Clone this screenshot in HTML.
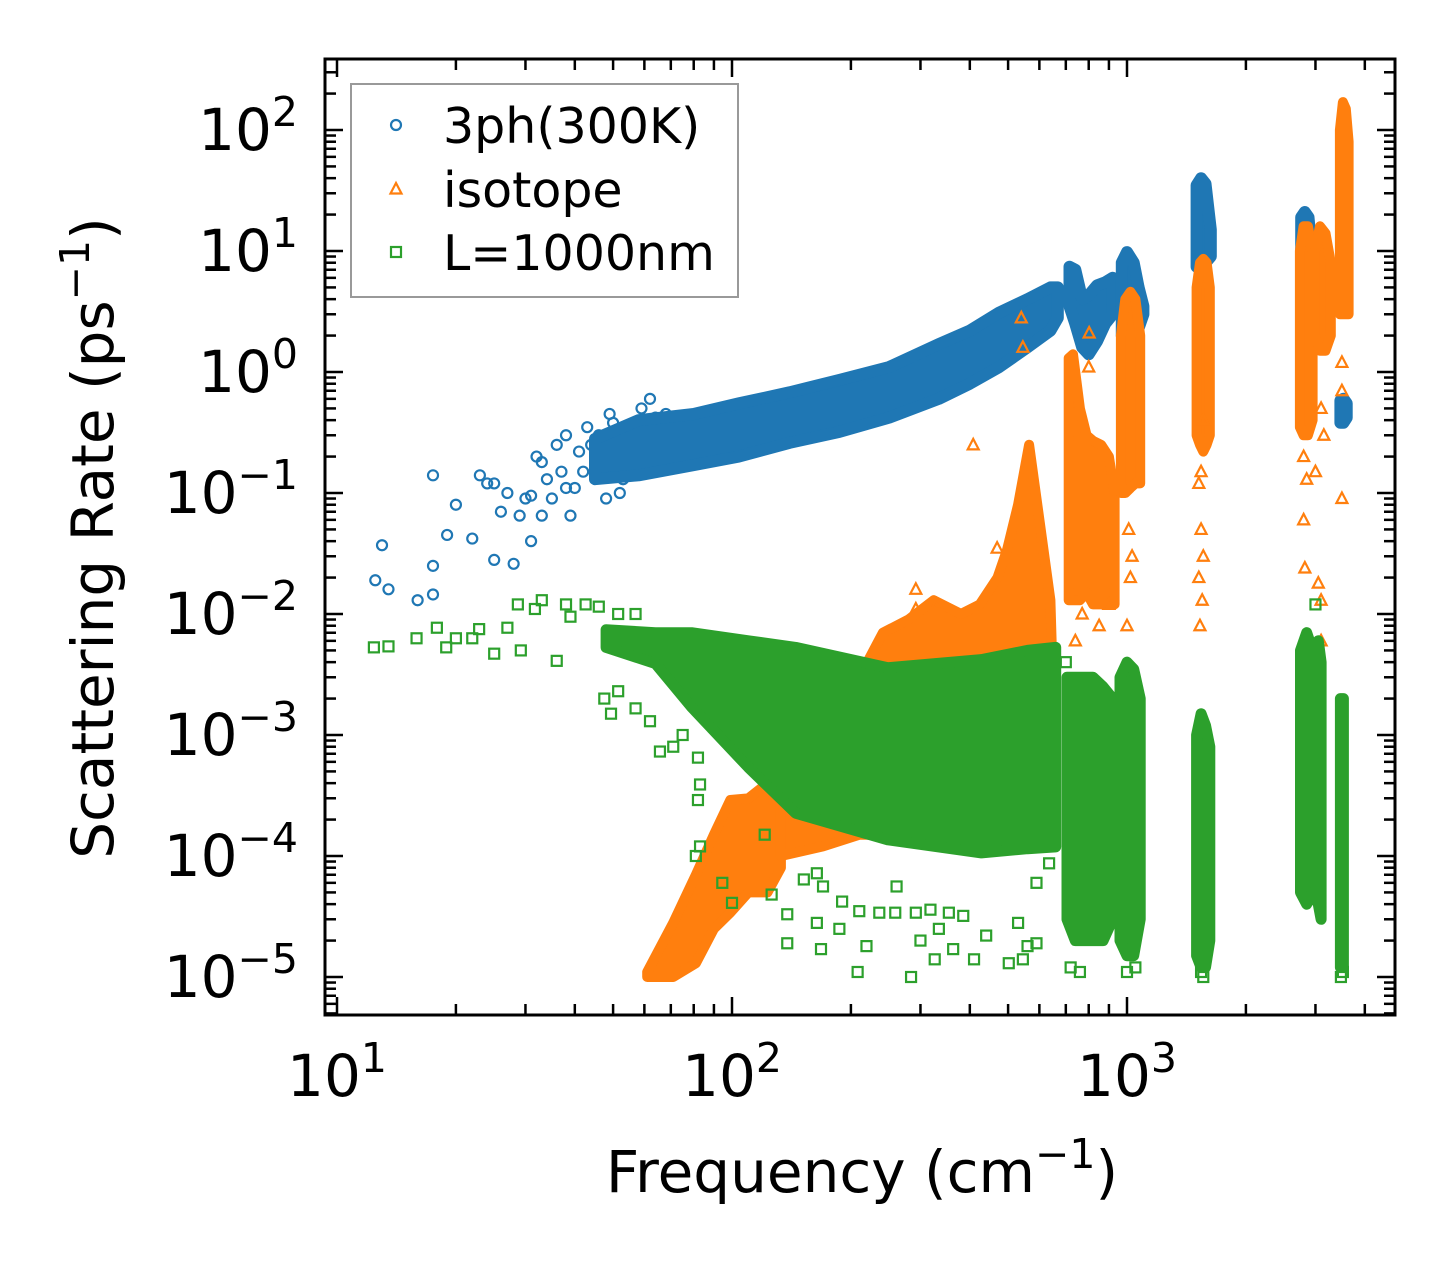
<!DOCTYPE html>
<html><head><meta charset="utf-8"><style>
html,body{margin:0;padding:0;background:#fff;}
svg{display:block;font-family:"DejaVu Sans","Liberation Sans",sans-serif;}
</style></head><body>
<svg id="chart" xmlns="http://www.w3.org/2000/svg" width="1455" height="1265" viewBox="0 0 1455 1265">
<defs><clipPath id="plotclip"><rect x="325" y="59" width="1070" height="956"/></clipPath></defs>
<g id="marks" clip-path="url(#plotclip)"></g>
<g id="axes"></g>
</svg>
<script>
// ---------- data (frequency cm^-1, rate ps^-1) ----------
const blueMainF=[45,58,80,104,140,187,250,334,400,475,560,640,668];
const blueMainLo=[0.13,0.14,0.17,0.2,0.26,0.32,0.42,0.6,0.8,1.1,1.6,2.2,2.8];
const blueMainHi=[0.28,0.4,0.45,0.55,0.68,0.86,1.1,1.7,2.2,3.1,4,5,5];
const blueBF=[715,740,770,800,840,880,920];
const blueBLo=[3.5,2.5,1.6,1.4,1.8,2.5,3];
const blueBHi=[7.4,7,4,4.3,5.2,5.5,6];
const blueCF=[970,1000,1040,1070,1100];
const blueCLo=[2,2,2.1,2.3,3];
const blueCHi=[8,9.8,8,5,3.5];
const blueDF=[1500,1540,1580,1630];
const blueDLo=[7.4,7.4,8,9];
const blueDHi=[35,40,36,15];
const blueEF=[2760,2820,2880,2950];
const blueELo=[2.1,2.5,3,3.5];
const blueEHi=[19,21,19,8];
const blueFF=[3470,3530,3600];
const blueFLo=[0.38,0.38,0.42];
const blueFHi=[0.58,0.6,0.55];
const blueSparseF=[12.5,13,13.5,16,17.5,17.5,17.5,19,20,22,23,24,25,25,26,27,28,29,30,31,31,32,33,33,34,35,36,37,38,38,39,40,41,42,43,44,45,46,47,48,49,50,51,52,53,55,57,59,60,62,64,66,68,70];
const blueSparseR=[0.019,0.037,0.016,0.013,0.14,0.025,0.0145,0.045,0.08,0.042,0.14,0.12,0.028,0.12,0.07,0.1,0.026,0.065,0.09,0.095,0.04,0.2,0.18,0.065,0.13,0.09,0.25,0.15,0.3,0.11,0.065,0.11,0.22,0.15,0.35,0.25,0.14,0.3,0.2,0.09,0.45,0.38,0.15,0.1,0.13,0.25,0.35,0.5,0.3,0.6,0.42,0.4,0.45,0.3];

const orLowF=[61,71,81,90,99,110,123,133];
const orLowLo=[1e-5,1e-5,1.3e-5,2.5e-5,3.4e-5,5e-5,5e-5,8e-5];
const orLowHi=[1.1e-5,2.8e-5,7e-5,1.5e-4,2.9e-4,3e-4,4e-4,4.2e-4];
const orMidF=[133,170,210,241,280,324,380,424,470,497,530,565,600,640,655];
const orMidLo=[1e-4,1.2e-4,1.5e-4,1.5e-4,1.5e-4,1.5e-4,1.5e-4,1.5e-4,1.5e-4,1.5e-4,1.5e-4,1.5e-4,2e-4,2e-4,3e-4];
const orMidHi=[4e-4,8e-4,3e-3,7e-3,9e-3,1.3e-2,1e-2,1.2e-2,2e-2,3.4e-2,8e-2,0.25,0.06,1.3e-2,1e-3];
const orBF=[712,730,760,790,820,860,900,930];
const orBLo=[0.013,0.013,0.013,0.015,0.012,0.012,0.012,0.012];
const orBHi=[1.3,1.4,0.5,0.3,0.27,0.25,0.2,0.1];
const orCF=[965,990,1020,1050,1080];
const orCLo=[0.1,0.1,0.11,0.12,0.12];
const orCHi=[2,4,4.6,4,2];
const orDF=[1500,1530,1560,1590,1620];
const orDLo=[0.3,0.25,0.22,0.25,0.3];
const orDHi=[5,8,8.6,8,5];
const orEF=[2740,2800,2870,2950];
const orELo=[0.35,0.3,0.3,0.4];
const orEHi=[10,16,16,10];
const orE2F=[2990,3080,3180,3280];
const orE2Lo=[2,1.5,1.5,2];
const orE2Hi=[10,16,14,8];
const orFF=[3460,3520,3580,3640];
const orFLo=[3,3,3,3];
const orFHi=[100,170,150,80];
const orSparseF=[540,545,802,800,408,469,292,292,330,1520,1540,1520,1550,1530,1560,2800,2850,2800,2820,3050,3100,3100,3500,3500,3500,1010,1020,1000,900,850,1030,740,770,3100,3150,3000,1540,1560];
const orSparseR=[2.8,1.6,2.1,1.1,0.25,0.035,0.016,0.011,0.012,0.12,0.05,0.02,0.013,0.008,0.03,0.2,0.13,0.06,0.024,0.018,0.013,0.006,0.09,0.7,1.2,0.05,0.02,0.008,0.012,0.008,0.03,0.006,0.01,0.5,0.3,0.15,0.15,0.4];

const grMainF=[48,64,79,110,145,248,428,560,660];
const grMainLo=[5.3e-3,3.9e-3,1.7e-3,5.4e-4,2.26e-4,1.36e-4,1.06e-4,1.15e-4,1.19e-4];
const grMainHi=[7.4e-3,7e-3,7e-3,6e-3,5.3e-3,3.6e-3,4.2e-3,5e-3,5.3e-3];
const grBF=[705,740,780,820,870,920];
const grBLo=[3e-5,2e-5,2e-5,2e-5,2e-5,3e-5];
const grBHi=[3e-3,3e-3,3e-3,3e-3,2.5e-3,2e-3];
const grCF=[960,1000,1040,1080];
const grCLo=[2e-5,1.5e-5,1.5e-5,3e-5];
const grCHi=[3e-3,4e-3,3.5e-3,2e-3];
const grDF=[1500,1540,1580,1620];
const grDLo=[1.5e-5,1.2e-5,1.2e-5,2e-5];
const grDHi=[1e-3,1.5e-3,1.2e-3,8e-4];
const grEF=[2750,2850,2950,3050,3100];
const grELo=[5e-5,4e-5,5e-5,4e-5,3e-5];
const grEHi=[5e-3,7e-3,5e-3,6e-3,4e-3];
const grFF=[3470,3530];
const grFLo=[1.2e-5,1.2e-5];
const grFHi=[2e-3,2e-3];
const grSparseF=[12.4,13.5,15.9,17.9,18.9,20,22,22.9,25,27,28.7,31.7,33,38,42.6,46,51.5,57,36,29.2,39,47.5,49.4,51.5,57,62,65.7,71,75,82,83,82,83,81,94.5,100,121,126,138,138,152,164,170,168,187,190,210,219,208,236,259,284,300,318,326,334,363,410,440,502,545,590,635,590,385,261,292,354,530,560,164,720,760,1000,1050,1540,1560,3480,3520,700,3000];
const grSparseR=[5.3e-3,5.4e-3,6.3e-3,7.7e-3,5.3e-3,6.3e-3,6.3e-3,7.5e-3,4.7e-3,7.7e-3,1.2e-2,1.1e-2,1.3e-2,1.2e-2,1.2e-2,1.15e-2,1e-2,1e-2,4.1e-3,5e-3,9.5e-3,2e-3,1.5e-3,2.3e-3,1.66e-3,1.3e-3,7.3e-4,8e-4,1e-3,6.5e-4,3.9e-4,2.9e-4,1.2e-4,1e-4,6e-5,4.1e-5,1.5e-4,4.8e-5,3.3e-5,1.9e-5,6.4e-5,7.2e-5,5.6e-5,1.7e-5,2.5e-5,4.2e-5,3.5e-5,1.8e-5,1.1e-5,3.4e-5,3.4e-5,1e-5,2e-5,3.6e-5,1.4e-5,2.5e-5,1.7e-5,1.4e-5,2.2e-5,1.3e-5,1.4e-5,1.9e-5,8.7e-5,6e-5,3.2e-5,5.6e-5,3.4e-5,3.4e-5,2.8e-5,1.8e-5,2.8e-5,1.2e-5,1.1e-5,1.1e-5,1.2e-5,1.1e-5,1e-5,1e-5,1.1e-5,4e-3,1.2e-2];

const xTickExps=[1,2,3];
const yTickExps=[2,1,0,-1,-2,-3,-4,-5];
const legendLabels=["3ph(300K)","isotope","L=1000nm"];

// ---------- scales ----------
const NS="http://www.w3.org/2000/svg";
function X(f){return 337+395*(Math.log10(f)-1);}
function Y(r){return 130-121*(Math.log10(r)-2);}
const marks=document.getElementById('marks');
const axes=document.getElementById('axes');
const BLUE="#1f77b4",ORANGE="#ff7f0e",GREEN="#2ca02c";

function band(f,lo,hi,color,w,name){
  const pts=[];
  for(let i=0;i<f.length;i++)pts.push(X(f[i]).toFixed(1)+","+Y(hi[i]).toFixed(1));
  for(let i=f.length-1;i>=0;i--)pts.push(X(f[i]).toFixed(1)+","+Y(lo[i]).toFixed(1));
  const p=document.createElementNS(NS,'polygon');
  p.setAttribute('points',pts.join(' '));
  p.setAttribute('fill',color);p.setAttribute('stroke',color);
  p.setAttribute('stroke-width',w);p.setAttribute('stroke-linejoin','round');
  
  
  marks.appendChild(p);
}
function marker(kind,cx,cy,color,parent){
  let el;
  if(kind==='circle'){el=document.createElementNS(NS,'circle');el.setAttribute('cx',cx);el.setAttribute('cy',cy);el.setAttribute('r',5);}
  else if(kind==='tri'){el=document.createElementNS(NS,'polygon');el.setAttribute('points',`${cx},${cy-6} ${cx-5.5},${cy+4.5} ${cx+5.5},${cy+4.5}`);}
  else {el=document.createElementNS(NS,'rect');el.setAttribute('x',cx-5);el.setAttribute('y',cy-5);el.setAttribute('width',10);el.setAttribute('height',10);}
  el.setAttribute('fill','none');el.setAttribute('stroke',color);el.setAttribute('stroke-width',2.2);
  
  
  (parent||marks).appendChild(el);
}
function sparse(f,r,kind,color){for(let i=0;i<f.length;i++)marker(kind,X(f[i]),Y(r[i]),color);}

sparse(blueSparseF,blueSparseR,'circle',BLUE);
band(blueMainF,blueMainLo,blueMainHi,BLUE,12,'3ph-band-main');
band(blueBF,blueBLo,blueBHi,BLUE,12,'3ph-band-b');
band(blueCF,blueCLo,blueCHi,BLUE,12,'3ph-band-c');
band(blueDF,blueDLo,blueDHi,BLUE,12,'3ph-band-d');
band(blueEF,blueELo,blueEHi,BLUE,12,'3ph-band-e');
band(blueFF,blueFLo,blueFHi,BLUE,12,'3ph-band-f');
band(orLowF,orLowLo,orLowHi,ORANGE,10,'isotope-band-low');
band(orMidF,orMidLo,orMidHi,ORANGE,10,'isotope-band-mid');
band(orBF,orBLo,orBHi,ORANGE,10,'isotope-band-b');
band(orCF,orCLo,orCHi,ORANGE,10,'isotope-band-c');
band(orDF,orDLo,orDHi,ORANGE,10,'isotope-band-d');
band(orEF,orELo,orEHi,ORANGE,10,'isotope-band-e');
band(orE2F,orE2Lo,orE2Hi,ORANGE,10,'isotope-band-e2');
band(orFF,orFLo,orFHi,ORANGE,10,'isotope-band-f');
sparse(orSparseF,orSparseR,'tri',ORANGE);
band(grMainF,grMainLo,grMainHi,GREEN,11,'boundary-band-main');
band(grBF,grBLo,grBHi,GREEN,11,'boundary-band-b');
band(grCF,grCLo,grCHi,GREEN,11,'boundary-band-c');
band(grDF,grDLo,grDHi,GREEN,11,'boundary-band-d');
band(grEF,grELo,grEHi,GREEN,11,'boundary-band-e');
band(grFF,grFLo,grFHi,GREEN,11,'boundary-band-f');
sparse(grSparseF,grSparseR,'sq',GREEN);

// ---------- axes ----------
function line(x1,y1,x2,y2,w,name){
  const l=document.createElementNS(NS,'line');
  l.setAttribute('x1',x1);l.setAttribute('y1',y1);l.setAttribute('x2',x2);l.setAttribute('y2',y2);
  l.setAttribute('stroke','#000');l.setAttribute('stroke-width',w);
  
  
  axes.appendChild(l);
}
const L=325,R=1395,T=59,B=1015;
for(let e=0;e<=3;e++){
  for(let m=1;m<=9;m++){
    const f=m*Math.pow(10,e);const x=X(f);
    if(x<L+1||x>R-1)continue;
    const len=m===1?18:11;
    line(x,B,x,B-len,2.5,m===1?'x-major-tick':'x-minor-tick');
    line(x,T,x,T+len,2.5,m===1?'x-major-tick-top':'x-minor-tick-top');
  }
}
for(let e=-6;e<=2;e++){
  for(let m=1;m<=9;m++){
    const r=m*Math.pow(10,e);const y=Y(r);
    if(y<T+1||y>B-1)continue;
    const len=m===1?18:11;
    line(L,y,L+len,y,2.5,m===1?'y-major-tick':'y-minor-tick');
    line(R,y,R-len,y,2.5,m===1?'y-major-tick-right':'y-minor-tick-right');
  }
}
const frame=document.createElementNS(NS,'rect');
frame.setAttribute('x',L);frame.setAttribute('y',T);frame.setAttribute('width',R-L);frame.setAttribute('height',B-T);
frame.setAttribute('fill','none');frame.setAttribute('stroke','#000');frame.setAttribute('stroke-width',3);


axes.appendChild(frame);

function powLabel(x,y,exp,anchor,name){
  const t=document.createElementNS(NS,'text');
  t.setAttribute('x',x);t.setAttribute('y',y);t.setAttribute('text-anchor',anchor);
  t.setAttribute('font-size','58');t.setAttribute('fill','#000');
  
  
  const a=document.createElementNS(NS,'tspan');a.textContent='10';t.appendChild(a);
  const s=document.createElementNS(NS,'tspan');s.setAttribute('dy','-24');s.setAttribute('font-size','41');
  s.textContent=(exp<0?'\u2212'+(-exp):''+exp);t.appendChild(s);
  axes.appendChild(t);
}
xTickExps.forEach(e=>powLabel(X(Math.pow(10,e)),1096,e,'middle','x-tick-label'));
yTickExps.forEach(e=>powLabel(298,Y(Math.pow(10,e))+20,e,'end','y-tick-label'));

const xt=document.createElementNS(NS,'text');
xt.setAttribute('x',862);xt.setAttribute('y',1192);xt.setAttribute('text-anchor','middle');xt.setAttribute('font-size','58');


xt.innerHTML='Frequency (cm<tspan dy="-24" font-size="41">\u22121</tspan><tspan dy="24">)</tspan>';
axes.appendChild(xt);
const yt=document.createElementNS(NS,'text');
yt.setAttribute('transform','translate(113,538) rotate(-90)');yt.setAttribute('text-anchor','middle');yt.setAttribute('font-size','58');


yt.innerHTML='Scattering Rate (ps<tspan dy="-24" font-size="41">\u22121</tspan><tspan dy="24">)</tspan>';
axes.appendChild(yt);

const lg=document.createElementNS(NS,'g');


axes.appendChild(lg);
const lr=document.createElementNS(NS,'rect');
lr.setAttribute('x',351);lr.setAttribute('y',84);lr.setAttribute('width',387);lr.setAttribute('height',213);
lr.setAttribute('fill','#fff');lr.setAttribute('fill-opacity','0.8');lr.setAttribute('stroke','#999');lr.setAttribute('stroke-width',2);


lg.appendChild(lr);
const kinds=['circle','tri','sq'],cols=[BLUE,ORANGE,GREEN],rowsY=[125,189,252];
for(let i=0;i<3;i++){
  marker(kinds[i],396,rowsY[i],cols[i],lg);
  const t=document.createElementNS(NS,'text');
  t.setAttribute('x',443);t.setAttribute('y',rowsY[i]+18);t.setAttribute('font-size','49');
  
  
  t.textContent=legendLabels[i];
  lg.appendChild(t);
}
</script>
</body></html>
